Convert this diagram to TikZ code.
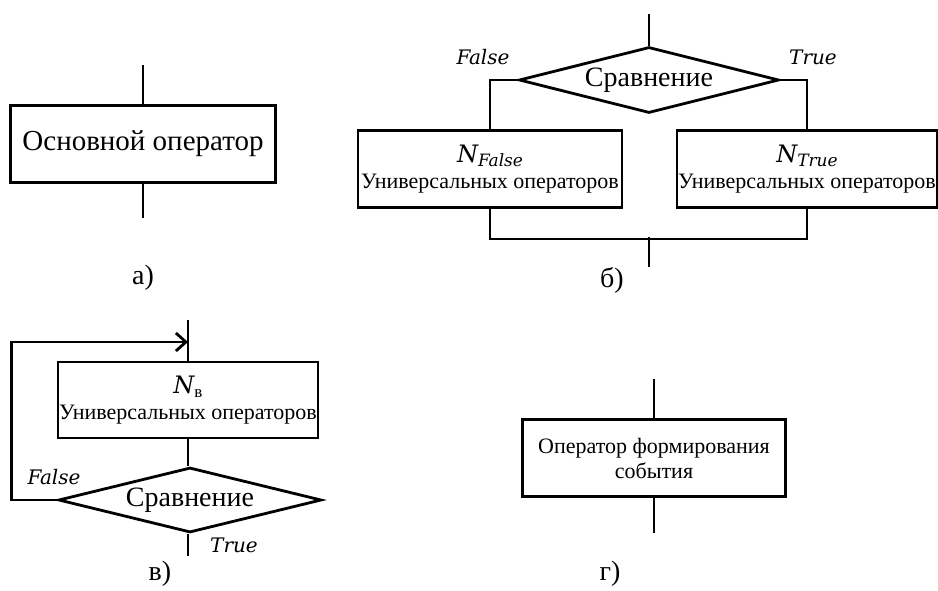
\documentclass[tikz,border=0pt]{standalone}
\usepackage{fontspec}
\setmainfont{Liberation Serif}
\newfontfamily\labelfont{DejaVu Serif}
\usepackage{amsmath}
\usetikzlibrary{shapes.geometric}
\usetikzlibrary{arrows.meta}

\tikzset{
  opbox/.style={draw, rectangle, inner sep=0pt, align=center},
  cmpbox/.style={draw, diamond, inner sep=0pt, aspect=4},
  branch/.style={font=\fontsize{20}{22}\labelfont\itshape},
  caption/.style={font=\fontsize{28}{30}\selectfont},
}
\newcommand{\nsub}[1]{{\fontsize{24}{26}\labelfont\itshape N}\raisebox{-0.45ex}{\fontsize{17}{18}\labelfont\itshape #1}}

\begin{document}
\begin{tikzpicture}[x=1pt, y=-1pt, line width=2.8pt]
\useasboundingbox (0,0) rectangle (938,590);

% а) основной оператор
\node [opbox, minimum width=265pt, minimum height=77pt, font=\fontsize{29}{30}\selectfont] (main) at (143,144) {Основной оператор};
\coordinate (main-in) at (143,65);
\coordinate (main-out) at (143,218);
\draw (main-in) -- (main.north);
\draw (main.south) -- (main-out);
\node [caption] (cap-a) at (143,278) {а)};

% б) ветвление
\node [cmpbox, minimum width=260pt, minimum height=66pt, font=\fontsize{28}{30}\selectfont] (cmp1) at (649,80) {Сравнение};
\node [opbox, minimum width=264pt, minimum height=77pt, font=\fontsize{22}{26}\selectfont] (nfalse) at (490,169) {\nsub{False}\\Универсальных операторов};
\node [opbox, minimum width=260pt, minimum height=77pt, font=\fontsize{22}{26}\selectfont] (ntrue) at (807,169) {\nsub{True}\\Универсальных операторов};
\coordinate (b-in) at (649,14);
\coordinate (b-out) at (649,267);
\draw (b-in) -- (cmp1.north);
\draw (cmp1.west) -| (nfalse.north);
\draw (cmp1.east) -| (ntrue.north);
\draw (nfalse.south) -- ++(0,30) -| (ntrue.south);
\draw (b-out) -- ++(0,-30);
\node [branch] (f1) at (483,57) {False};
\node [branch] (t1) at (813,57) {True};
\node [caption] (cap-b) at (612,280) {б)};

% в) цикл
\node [opbox, minimum width=260pt, minimum height=76pt, font=\fontsize{22}{26}\selectfont] (nloop) at (188,400) {\nsub{\normalfont в}\\Универсальных операторов};
\node [cmpbox, minimum width=263pt, minimum height=65pt, font=\fontsize{28}{30}\selectfont] (cmp2) at (190,500) {Сравнение};
\coordinate (c-in) at (188,320);
\coordinate (c-loop) at (188,342);
\coordinate (c-out) at (188,556);
\draw (c-in) -- (nloop.north);
\draw (nloop.south) -- (cmp2.north -| nloop.south);
\draw (cmp2.south -| c-out) -- (c-out);
\draw [-{Straight Barb[length=10pt, width=18pt]}] (cmp2.west) -- ++(-46,0) |- (c-loop);
\node [branch] (f2) at (54,477) {False};
\node [branch] (t2) at (234,545) {True};
\node [caption] (cap-c) at (160,574) {в)};

% г) событие
\node [opbox, minimum width=263pt, minimum height=77pt, font=\fontsize{22}{25}\selectfont] (event) at (654,458) {Оператор формирования\\события};
\coordinate (d-in) at (654,379);
\coordinate (d-out) at (654,533);
\draw (d-in) -- (event.north);
\draw (event.south) -- (d-out);
\node [caption] (cap-d) at (610,574) {г)};
\end{tikzpicture}
\end{document}
